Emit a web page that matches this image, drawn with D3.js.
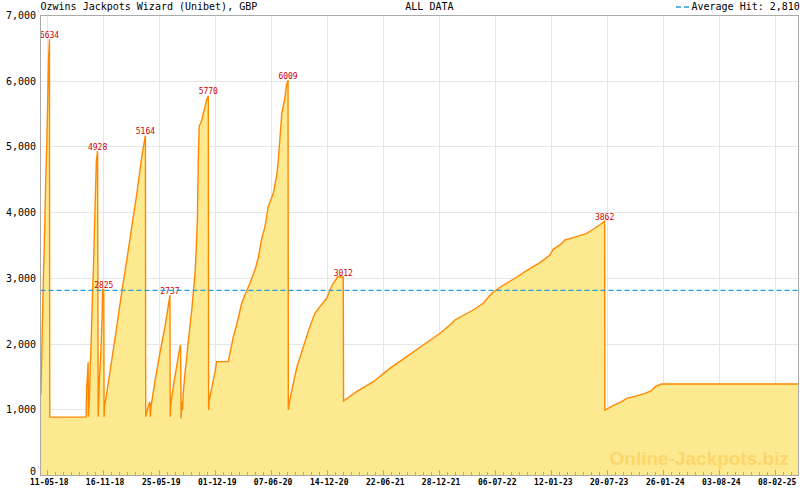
<!DOCTYPE html>
<html><head><meta charset="utf-8">
<script src="https://cdn.jsdelivr.net/npm/d3@7"></script>
<style>body{margin:0;background:#fff}svg{display:block}</style>
</head><body>
<svg id="chart" width="800" height="490"></svg>
<script>
const titleText = "Ozwins Jackpots Wizard (Unibet), GBP";
const rangeText = "ALL DATA";
const averageHit = 2810;
const watermark = "Online-Jackpots.biz";

const dates = [
"2018-04-21","2018-04-24","2018-04-27","2018-04-30","2018-05-04","2018-05-07","2018-05-11","2018-05-14","2018-05-17","2018-05-20","2018-05-21",
"2018-09-21","2018-09-22","2018-09-23","2018-09-28","2018-09-29","2018-10-02","2018-10-05","2018-10-09","2018-10-12","2018-10-16","2018-10-19","2018-10-22","2018-10-26","2018-10-30","2018-11-01",
"2018-11-05","2018-11-10","2018-11-14","2018-11-16","2018-11-20","2018-11-21","2018-11-23","2018-11-30","2018-12-17","2019-01-03","2019-01-20","2019-02-06","2019-02-23","2019-03-12","2019-03-28","2019-04-09","2019-04-10","2019-04-11",
"2019-04-15","2019-04-20","2019-04-25","2019-04-27","2019-04-29","2019-05-12","2019-05-29","2019-06-15","2019-06-25","2019-07-02","2019-07-03",
"2019-07-05","2019-07-19","2019-08-05","2019-08-07","2019-08-09","2019-08-11","2019-08-14","2019-08-16","2019-08-22","2019-08-28","2019-09-02","2019-09-08","2019-09-14","2019-09-19","2019-09-25","2019-09-28","2019-10-03","2019-10-06","2019-10-09","2019-10-18","2019-10-23","2019-10-29","2019-11-03","2019-11-09","2019-11-10",
"2019-11-12","2019-11-17","2019-11-26","2019-12-02","2019-12-07","2020-01-16","2020-01-21","2020-02-02","2020-02-13","2020-03-01","2020-03-12","2020-03-29","2020-04-15","2020-04-26","2020-05-08","2020-05-19","2020-05-30","2020-06-16","2020-06-28","2020-07-03","2020-07-09","2020-07-15","2020-07-26","2020-07-31","2020-08-05","2020-08-06",
"2020-08-09","2020-08-18","2020-08-29","2020-09-03","2020-09-15","2020-09-26","2020-10-07","2020-10-18","2020-11-04","2020-11-21","2020-12-14","2020-12-25","2021-01-05","2021-01-17","2021-01-19","2021-02-08","2021-02-09",
"2021-03-25","2021-05-21","2021-07-16","2021-09-11","2021-11-06","2022-01-02","2022-02-04","2022-02-21","2022-04-24","2022-05-28","2022-06-26","2022-07-24","2022-09-18","2022-10-22","2022-12-06","2023-01-09","2023-01-20","2023-02-12","2023-03-01","2023-03-29","2023-05-13","2023-06-05","2023-07-09","2023-07-13","2023-07-14",
"2023-07-31","2023-08-23","2023-09-09","2023-09-26","2023-10-30","2023-11-27","2023-12-19","2023-12-31","2024-01-22","2025-04-28"
];
const values = [
1220,1840,2480,3100,3760,4400,5040,5680,6320,6634,880,
880,1100,1294,1715,888,1116,1623,2131,2638,3146,3653,4160,4794,4928,888,
1446,1852,2359,2825,2825,888,1065,1243,1750,2258,2790,3273,3780,4287,4820,5150,5164,888,
960,1050,1116,888,1040,1420,1852,2250,2530,2737,888,
1091,1500,1953,1979,862,1116,990,1243,1547,1800,2029,2270,2511,2765,3069,3323,3881,4769,5302,5403,5504,5606,5707,5770,989,
1141,1243,1446,1573,1725,1725,1852,2106,2283,2613,2740,2917,3120,3298,3602,3780,4084,4287,4566,4794,5150,5505,5758,5936,6009,989,
1091,1294,1522,1624,1801,1953,2106,2258,2461,2562,2689,2816,2917,2993,3012,3012,1126,
1268,1420,1623,1801,1979,2157,2283,2359,2511,2613,2765,2857,3009,3110,3232,3348,3434,3501,3577,3612,3678,3740,3846,3862,989,
1030,1081,1116,1167,1203,1243,1283,1344,1385,1385
];

const xTickLabels = ["11-05-18","16-11-18","25-05-19","01-12-19","07-06-20","14-12-20","22-06-21","28-12-21","06-07-22","12-01-23","20-07-23","26-01-24","03-08-24","08-02-25"];
const yTickValues = [0,1000,2000,3000,4000,5000,6000,7000];
const xDomain = ["2018-04-18","2025-04-28"];

const W = 800, H = 490;
const L = 40.5, R = 798.5, T = 15, B = 475;

const parseISO = d3.timeParse("%Y-%m-%d");
const parseTick = d3.timeParse("%d-%m-%y");
const data = dates.map((d,i)=>({date:parseISO(d), value:values[i]}));
const tickDates = xTickLabels.map(parseTick);

const x = d3.scaleTime().domain(xDomain.map(parseISO)).range([40, 798]);
const y = d3.scaleLinear().domain([0,7000]).range([B, T]);

const svg = d3.select("#chart");
const mono = "'DejaVu Sans Mono', monospace";

svg.append("defs").append("clipPath").attr("id","plot")
  .append("rect").attr("x",L).attr("y",T).attr("width",R-L).attr("height",B-T);

// grid
const grid = svg.append("g").attr("shape-rendering","crispEdges").attr("stroke","#e6e6e6").attr("stroke-width",1);
yTickValues.filter(v=>v>0 && v<7000).forEach(v=>{
  grid.append("line").attr("x1",L).attr("x2",R).attr("y1",Math.round(y(v))+0.5).attr("y2",Math.round(y(v))+0.5);
});
tickDates.forEach(d=>{
  const px = Math.round(x(d))+0.5;
  grid.append("line").attr("x1",px).attr("x2",px).attr("y1",T).attr("y2",B);
});

const plot = svg.append("g").attr("clip-path","url(#plot)");
const area = d3.area().x(d=>x(d.date)).y0(B).y1(d=>y(d.value)).curve(d3.curveLinear);
const line = d3.line().x(d=>x(d.date)).y(d=>y(d.value)).curve(d3.curveLinear);
plot.append("path").datum(data).attr("d",area).attr("fill","#fde98f");
plot.append("path").datum(data).attr("d",line).attr("fill","none").attr("stroke","#ff8800").attr("stroke-width",1.4).attr("stroke-linejoin","miter");

// watermark
svg.append("text").attr("x",789).attr("y",465).attr("text-anchor","end")
  .attr("font-family","'Liberation Sans', Arial, sans-serif").attr("font-weight","bold").attr("font-size",19)
  .attr("fill","#ffb833").attr("fill-opacity",0.42).text(watermark);

// average line
svg.append("line").attr("x1",L).attr("x2",R).attr("y1",y(averageHit)).attr("y2",y(averageHit))
  .attr("stroke","#2a9bd8").attr("stroke-width",1.4).attr("stroke-dasharray","5,3");

// peak labels
const peaks = data.filter((d,i)=> i<data.length-1 && d.value - data[i+1].value > 1500);
plot.selectAll("text.peak").data(peaks).enter().append("text")
  .attr("x",d=>x(d.date)).attr("y",d=>y(d.value)-1.5).attr("text-anchor","middle")
  .attr("font-family",mono).attr("font-size",8).attr("fill","#cc0000").text(d=>d.value);

// frame
svg.append("rect").attr("x",L).attr("y",T+0.5).attr("width",R-L).attr("height",B-T-0.5)
  .attr("fill","none").attr("stroke","#aaaaaa").attr("stroke-width",1).attr("shape-rendering","crispEdges");

// x ticks
const ticksG = svg.append("g").attr("stroke","#aaaaaa").attr("shape-rendering","crispEdges");
const minorDates = [];
for (let i=0;i<tickDates.length;i++){
  const a = tickDates[i], b = i<tickDates.length-1 ? tickDates[i+1] : new Date(2*tickDates[i]-tickDates[i-1]);
  for (let k=1;k<7;k++){ const d = new Date(+a + (b-a)*k/7); if (x(d) < R) minorDates.push(d); }
}
tickDates.forEach(d=>{ const px=Math.round(x(d))+0.5; ticksG.append("line").attr("x1",px).attr("x2",px).attr("y1",B-5).attr("y2",B); });
minorDates.forEach(d=>{ const px=Math.round(x(d))+0.5; ticksG.append("line").attr("x1",px).attr("x2",px).attr("y1",B-3).attr("y2",B); });

// x labels
svg.selectAll("text.xl").data(tickDates).enter().append("text")
  .attr("x",(d)=>x(d)+2.5).attr("y",484.5).attr("text-anchor","middle")
  .attr("font-family",mono).attr("font-size",8).attr("font-weight","bold").attr("fill","#000")
  .text((d,i)=>xTickLabels[i]);

// y labels
const fmt = d3.format(",");
svg.selectAll("text.yl").data(yTickValues).enter().append("text")
  .attr("x",36).attr("y",v=> v===0 ? B : y(v)+4).attr("text-anchor","end")
  .attr("font-family",mono).attr("font-size",10).attr("fill","#000").text(v=>fmt(v));

// header
svg.append("text").attr("x",40.5).attr("y",10).attr("font-family",mono).attr("font-size",10).attr("fill","#000").text(titleText);
svg.append("text").attr("x",405.3).attr("y",10).attr("font-family",mono).attr("font-size",10).attr("fill","#000").text(rangeText);
svg.append("line").attr("x1",676).attr("x2",690).attr("y1",7).attr("y2",7).attr("stroke","#2a9bd8").attr("stroke-width",1.4).attr("stroke-dasharray","5,3");
svg.append("text").attr("x",691.5).attr("y",10).attr("font-family",mono).attr("font-size",10).attr("fill","#000").text("Average Hit: " + fmt(averageHit));
</script>
</body></html>
